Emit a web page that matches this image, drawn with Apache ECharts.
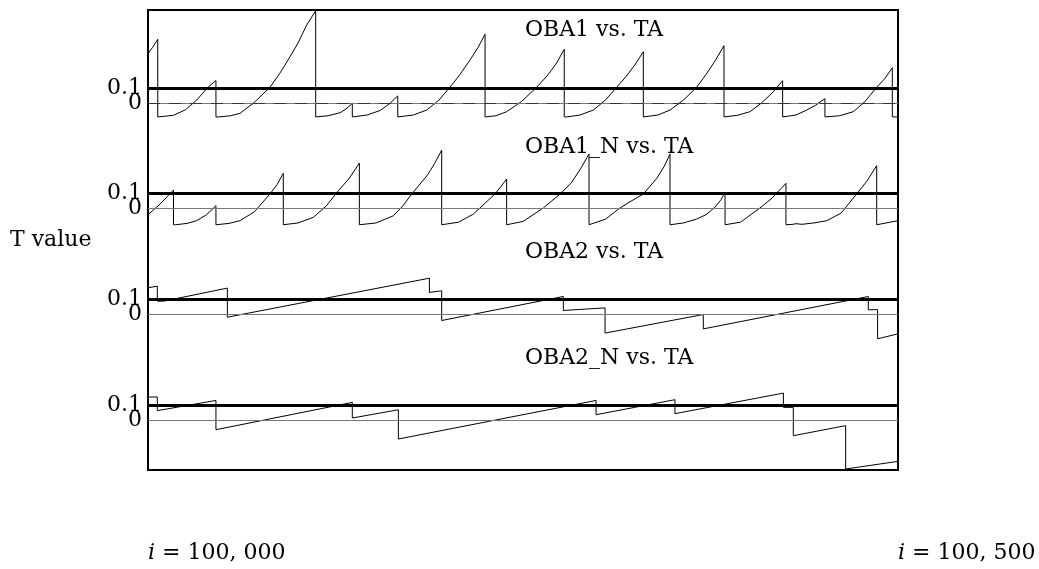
<!DOCTYPE html>
<html><head><meta charset="utf-8">
<script src="https://cdn.jsdelivr.net/npm/echarts@6/dist/echarts.min.js"></script>
<style>html,body{margin:0;padding:0;background:#fff}#c{width:1039px;height:569px}</style>
</head><body><div id="c"></div>
<script>
// ---- data ----
const panelTitles = ['OBA1 vs. TA', 'OBA1_N vs. TA', 'OBA2 vs. TA', 'OBA2_N vs. TA'];
const yAxisTitle = 'T value';
const yTickValues = [0, 0.1];
const thresholdValue = 0.1;
const baseValue = 0;
const iStart = 100000;
const iEnd = 100500;

const oba1 = [
  [0,0.33],[3,0.37],[6.5,0.425],[6.5,-0.093],
  [7.5,-0.093],[17,-0.082],[25,-0.045],[32.5,0.02],[40,0.105],[45.3,0.15],[45.3,-0.093],
  [47,-0.093],[55,-0.085],[61.3,-0.069],[71,0.005],[81.3,0.105],[88,0.2],[94.7,0.309],[100,0.4],[105.8,0.52],[111.8,0.615],[111.8,-0.093],
  [112.5,-0.093],[120,-0.085],[128,-0.065],[132,-0.04],[136.2,-0.002],[136.2,-0.093],
  [137,-0.093],[146,-0.08],[154.7,-0.05],[161,-0.005],[166.5,0.047],[166.5,-0.093],
  [167.5,-0.093],[177,-0.08],[185.8,-0.047],[194,0.02],[201.3,0.105],[208,0.19],[214.7,0.287],[220,0.37],[224.7,0.458],[224.7,-0.093],
  [225.8,-0.093],[232,-0.085],[239.1,-0.058],[249,0.01],[259.1,0.105],[266,0.18],[272,0.26],[277.5,0.358],[277.5,-0.093],
  [279.1,-0.093],[288,-0.08],[296.9,-0.047],[305,0.02],[312.5,0.105],[319,0.18],[325,0.26],[330.2,0.342],[330.2,-0.093],
  [331.3,-0.093],[340,-0.08],[348,-0.047],[357,0.02],[365.8,0.105],[372,0.19],[378,0.28],[384,0.382],[384,-0.093],
  [385.3,-0.093],[393,-0.082],[401.3,-0.058],[409,0.0],[416.9,0.075],[423.1,0.149],[423.1,-0.093],
  [424.2,-0.093],[432,-0.08],[439.1,-0.047],[445,-0.015],[451.3,0.029],[451.3,-0.093],
  [452.5,-0.093],[461,-0.085],[470.2,-0.058],[478,0.01],[485.8,0.105],[491,0.16],[496.2,0.235],[496.2,-0.093],[500,-0.093]
];
const oba1n = [
  [0,-0.04],[8,0.03],[17,0.125],[17,-0.107],
  [18.5,-0.107],[26,-0.098],[32.5,-0.08],[39,-0.04],[45.3,0.02],[45.3,-0.107],
  [46,-0.107],[54,-0.098],[61.3,-0.08],[71,-0.02],[81.3,0.098],[86,0.16],[90.2,0.236],[90.2,-0.107],
  [91,-0.107],[100,-0.095],[110.2,-0.058],[119,0.02],[126.9,0.12],[134,0.2],[140.9,0.304],[140.9,-0.107],
  [142,-0.107],[152,-0.095],[163.6,-0.047],[170,0.02],[175.8,0.098],[186,0.22],[191,0.3],[195.8,0.391],[195.8,-0.107],
  [197,-0.107],[207,-0.09],[216.9,-0.036],[224,0.03],[231.3,0.098],[235.5,0.15],[239.1,0.198],[239.1,-0.107],
  [240,-0.107],[250,-0.085],[263.6,0.005],[274.7,0.098],[282,0.17],[288,0.26],[294,0.364],[294,-0.107],
  [295.3,-0.107],[305,-0.07],[314.7,0.005],[322,0.05],[330.2,0.098],[339,0.2],[344,0.28],[348,0.364],[348,-0.107],
  [349,-0.107],[357,-0.095],[365.8,-0.069],[372,-0.04],[378,0.01],[382,0.06],[384.7,0.109],[384.7,-0.107],
  [385.8,-0.107],[395,-0.09],[408,0.005],[416,0.07],[425.3,0.169],[425.3,-0.107],
  [426.5,-0.107],[430,-0.104],[432,-0.1],[433,-0.107],[436,-0.104],[444,-0.095],[452.5,-0.08],[462,-0.03],[472.4,0.098],[479,0.18],[485.8,0.287],[485.8,-0.107],
  [487,-0.107],[500,-0.08]
];
const oba2 = [
  [0,0.178],[6.2,0.189],[6.2,0.089],[10.5,0.089],[52.9,0.176],[52.9,-0.018],
  [187.6,0.242],[187.6,0.147],[195.8,0.158],[195.8,-0.04],
  [276.9,0.12],[276.9,0.027],[304.7,0.044],[304.7,-0.124],
  [370.2,0.0],[370.2,-0.096],[480.2,0.12],[480.2,0.031],[486.4,0.033],[486.4,-0.162],[500,-0.129]
];
const oba2n = [
  [0,0.158],[6.2,0.158],[6.2,0.067],[45.3,0.135],[45.3,-0.06],
  [136.2,0.122],[136.2,0.018],[166.9,0.073],[166.9,-0.122],
  [298.7,0.135],[298.7,0.04],[351.3,0.14],[351.3,0.047],
  [423.6,0.184],[423.6,0.089],[430.2,0.089],[430.2,-0.1],
  [465.1,-0.033],[465.1,-0.322],[500,-0.271]
];
const panelSeries = [oba1, oba1n, oba2, oba2n];

// ---- layout / style ----
const FONT = 'DejaVu Serif';
const FS = 22;
const panelTops = [10, 115.7, 221.5, 327.7];
const titleTops = [19, 136, 241, 347];

function fmtI(n) {
  const s = String(n);
  const parts = [];
  for (let i = s.length; i > 0; i -= 3) parts.unshift(s.slice(Math.max(0, i - 3), i));
  return parts.join(', ');
}

const grids = [{left:148, top:10, width:750, height:460, show:true, borderColor:'#000', borderWidth:2, backgroundColor:'transparent', z:5}];
panelTops.forEach(t => grids.push({left:148, top:t, width:750, height:153}));

const xAxes = [{
  gridIndex:0, type:'value', min:0, max:iEnd - iStart, interval:iEnd - iStart,
  axisLine:{show:false}, axisTick:{show:false}, splitLine:{show:false},
  axisLabel:{
    margin:72, align:'left', fontFamily:FONT, fontSize:FS, color:'#000',
    formatter: v => '{it|i} = ' + fmtI(iStart + v),
    rich:{it:{fontStyle:'italic', fontFamily:FONT, fontSize:FS, color:'#000'}}
  }
}];
const yAxes = [{gridIndex:0, type:'value', show:false}];
const series = [];
panelSeries.forEach((d, k) => {
  xAxes.push({gridIndex:k+1, type:'value', min:0, max:iEnd - iStart, show:false});
  yAxes.push({
    gridIndex:k+1, type:'value', min:-0.4, max:0.62, interval:0.1,
    axisLine:{show:false}, axisTick:{show:false}, splitLine:{show:false},
    axisLabel:{
      margin:6, fontFamily:FONT, fontSize:FS, color:'#000',
      formatter: v => { const m = yTickValues.find(t => Math.abs(t - v) < 1e-9); return m === undefined ? '' : String(m); }
    }
  });
  const ml = [
    {yAxis: baseValue, lineStyle:{color:'#777', width:1.2, type:'solid'}},
    {yAxis: thresholdValue, lineStyle:{color:'#000', width:3, type:'solid'}}
  ];
  if (k === 0) ml.push({yAxis: baseValue, lineStyle:{color:'#333', width:1, type:[12, 9]}});
  series.push({
    type:'line', xAxisIndex:k+1, yAxisIndex:k+1, data:d,
    showSymbol:false, symbol:'none', clip:true,
    lineStyle:{color:'#000', width:1},
    markLine:{silent:true, symbol:['none','none'], label:{show:false}, data:ml, animation:false}
  });
});

const graphic = panelTitles.map((t, k) => ({
  type:'text', left:525, top:titleTops[k],
  style:{text:t, fontFamily:FONT, fontSize:FS, fill:'#000'}
}));
graphic.push({type:'text', left:10, top:229, style:{text:yAxisTitle, fontFamily:FONT, fontSize:FS, fill:'#000'}});

const chart = echarts.init(document.getElementById('c'), null, {renderer:'canvas'});
chart.setOption({
  animation:false,
  backgroundColor:'#fff',
  grid:grids, xAxis:xAxes, yAxis:yAxes, series:series, graphic:graphic
});
</script></body></html>
